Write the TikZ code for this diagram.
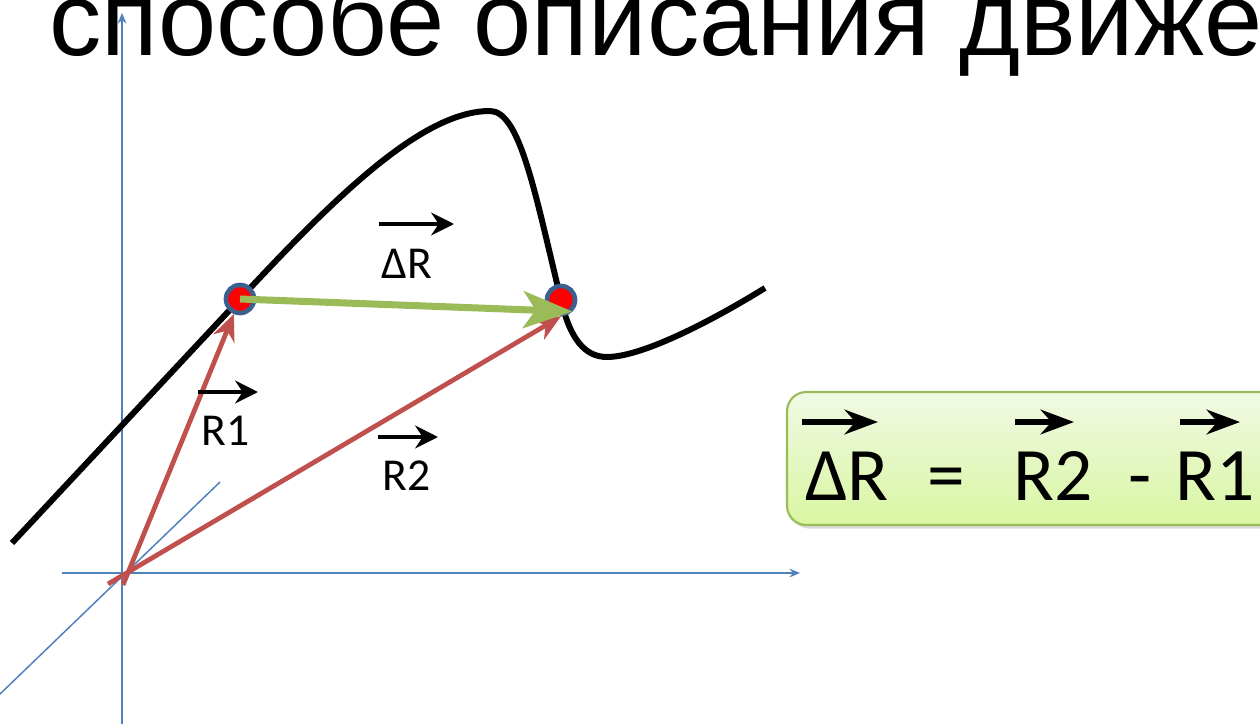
\documentclass[tikz,border=0pt]{standalone}
\usepackage{fontspec}
\setmainfont{Liberation Sans}
\newfontfamily\labelfont{Carlito}
\usepackage{tikz}
\usetikzlibrary{arrows.meta,shadows}

\begin{document}
\begin{tikzpicture}[x=0.02cm, y=-0.02cm]

\definecolor{axisblue}{HTML}{4F81BD}
\definecolor{vecred}{HTML}{C0504D}
\definecolor{dispgreen}{HTML}{9BBB59}
\definecolor{ringblue}{HTML}{3B5F8F}
\definecolor{boxtop}{HTML}{F1F9E4}
\definecolor{boxbottom}{HTML}{D8F6A2}

\tikzset{
  axisline/.style={draw=axisblue, line width=0.85pt},
  axisarrow/.style={axisline, -{Stealth[length=6pt,width=5pt]}},
  pathcurve/.style={draw=black, line width=3.4pt},
  radvec/.style={
    draw=vecred, line width=2.7pt, -{Stealth[length=15pt,width=13pt]}
  },
  dispvec/.style={
    draw=dispgreen, line width=4pt, -{Stealth[length=28pt,width=21pt,inset=7pt]}
  },
  pointmark/.style={
    circle, draw=ringblue, fill=red, line width=2.6pt,
    minimum size=16pt, inner sep=0pt
  },
  overarrow/.style={draw=black, line width=2.6pt, -{Stealth[length=13pt,width=13pt]}},
  eqarrow/.style={draw=black, line width=3pt, -{Stealth[length=19pt,width=14pt]}},
  veclabel/.style={anchor=base west, inner sep=0pt, font=\labelfont\fontsize{26}{28}\selectfont},
  eqtext/.style={anchor=base west, inner sep=0pt, font=\labelfont\fontsize{43}{45}\selectfont},
  eqbox/.style={
    draw=dispgreen, line width=1.2pt, rounded corners=11pt,
    top color=boxtop, bottom color=boxbottom,
    drop shadow={shadow xshift=1.5pt, shadow yshift=-2pt, opacity=0.3}
  }
}

\useasboundingbox (0,0) rectangle (1260,723);
\clip (0,0) rectangle (1260,723);

% Title line, cut by the frame.
\node[anchor=base west, inner sep=0pt, font=\fontsize{59.5}{62}\selectfont]
  (title) at (49,56) {способе описания движе};

% Axes.
\coordinate (ytop) at (122,13);
\coordinate (ybot) at (122,730);
\coordinate (xleft) at (62,573);
\coordinate (xright) at (800,573);
\coordinate (zlow) at (0,694);
\coordinate (zhigh) at (220,482);
\draw[axisarrow] (ybot) -- (ytop);
\draw[axisarrow] (xleft) -- (xright);
\draw[axisline] (zlow) -- (zhigh);

% Trajectory.
\coordinate (start) at (12,543);
\coordinate (pA) at (240,299);
\coordinate (peak) at (490,111);
\coordinate (pB) at (561,300);
\coordinate (dip) at (607,357);
\coordinate (finish) at (765,288);
\draw[pathcurve] (start) -- (pA)
  .. controls (342,189) and (425,111) .. (peak)
  .. controls (520,111) and (535,193) .. (pB)
  .. controls (570,339) and (585,357) .. (dip)
  .. controls (640,357) and (705,325) .. (finish);

% Positions on the trajectory.
\node[pointmark] (A) at (pA) {};
\node[pointmark] (B) at (pB) {};

% Radius vectors and displacement.
\coordinate (r1start) at (123,585);
\coordinate (r2start) at (108,584);
\draw[radvec] (r1start) -- (A);
\draw[radvec] (r2start) -- (B.south);
\draw[dispvec] (A.center) -- (B.south east);

% Vector labels.
\draw[overarrow] (379,224) -- (454,224);
\node[veclabel] (dRlabel) at (381,278) {ΔR};
\draw[overarrow] (198,392) -- (258,392);
\node[veclabel] (R1label) at (201,445) {R1};
\draw[overarrow] (378,437) -- (438,437);
\node[veclabel] (R2label) at (382,490) {R2};

% Equation box.
\path[eqbox] (787,392) rectangle (1290,525);
\node[eqtext] (eqdR) at (805,500) {ΔR};
\node[eqtext] (eqeq) at (927,500) {=};
\node[eqtext] (eqRtwo) at (1013,500) {R2};
\node[eqtext] (eqminus) at (1128,500) {-};
\node[eqtext] (eqRone) at (1175,500) {R1};
\draw[eqarrow] (802,422) -- (878,422);
\draw[eqarrow] (1015,422) -- (1074,422);
\draw[eqarrow] (1180,422) -- (1240,422);

\end{tikzpicture}
\end{document}
